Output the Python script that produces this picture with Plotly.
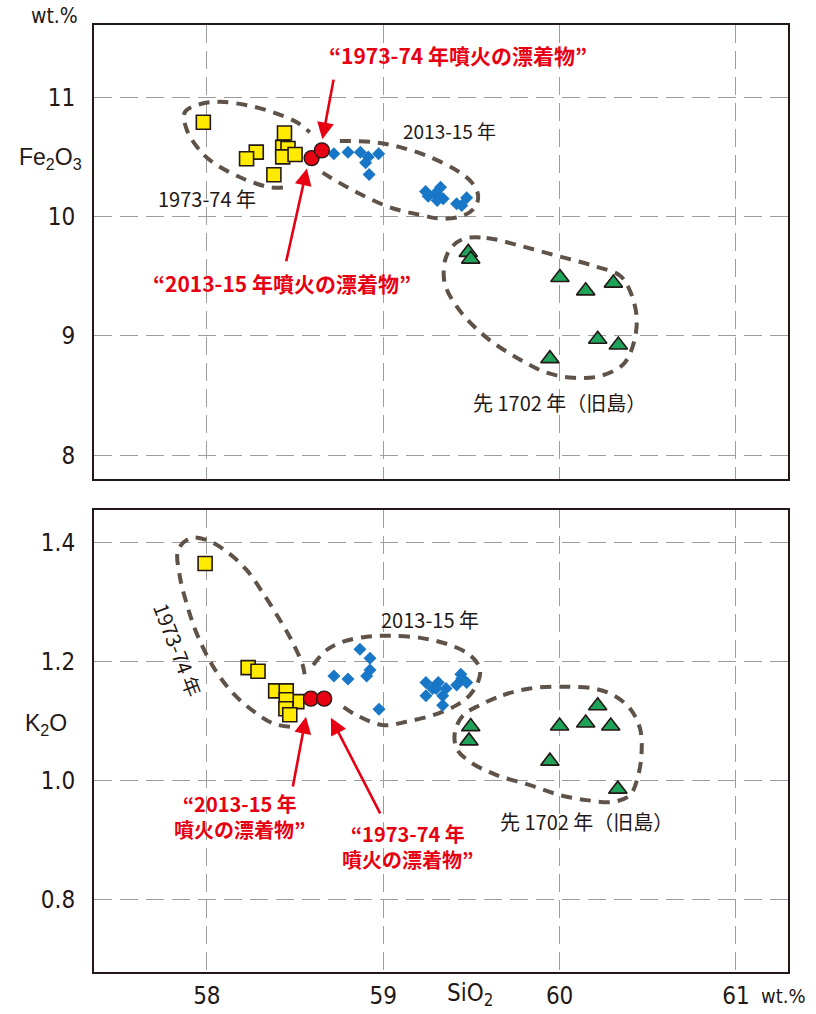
import plotly.graph_objects as go

# ---------------- data ----------------
# Upper panel: Fe2O3 vs SiO2 (wt.%)
sq_sio2_fe = [57.98, 58.44, 58.28, 58.225, 58.43, 58.46, 58.43, 58.50, 58.38]
sq_fe2o3 = [10.79, 10.70, 10.54, 10.485, 10.58, 10.57, 10.50, 10.52, 10.35]

ci_sio2_fe = [58.594, 58.652]
ci_fe2o3 = [10.49, 10.555]

di_sio2_fe = [58.72, 58.80, 58.87, 58.915, 58.974, 58.92, 58.90,
              59.24, 59.255, 59.30, 59.325, 59.31, 59.34, 59.306, 59.416, 59.445, 59.473]
di_fe2o3 = [10.527, 10.54, 10.54, 10.50, 10.527, 10.353, 10.45,
            10.21, 10.17, 10.20, 10.246, 10.168, 10.149, 10.134, 10.107, 10.092, 10.157]

tr_sio2_fe = [59.482, 59.496, 60.002, 60.148, 60.305, 60.216, 60.333, 59.945]
tr_fe2o3 = [9.70, 9.644, 9.49, 9.378, 9.443, 8.972, 8.924, 8.81]

# Lower panel: K2O vs SiO2 (wt.%)
sq_sio2_k = [57.99, 58.234, 58.29, 58.39, 58.45, 58.51, 58.45, 58.448, 58.47]
sq_k2o = [1.365, 1.19, 1.184, 1.151, 1.151, 1.133, 1.136, 1.121, 1.111]

ci_sio2_k = [58.59, 58.665]
ci_k2o = [1.138, 1.138]

di_sio2_k = [58.868, 58.925, 58.925, 58.906, 58.72, 58.80, 58.976,
             59.242, 59.28, 59.242, 59.312, 59.30, 59.356, 59.337, 59.337, 59.416, 59.44, 59.445, 59.473]
di_k2o = [1.221, 1.206, 1.186, 1.176, 1.176, 1.171, 1.12,
          1.165, 1.155, 1.143, 1.165, 1.155, 1.155, 1.143, 1.127, 1.161, 1.179, 1.172, 1.165]

tr_sio2_k = [59.496, 59.486, 60.0, 60.148, 60.216, 60.29, 59.945, 60.33]
tr_k2o = [1.091, 1.067, 1.092, 1.097, 1.126, 1.092, 1.033, 0.986]

# Group outlines (hand-drawn dashed curves), in data units
out_fe_1973_x = [58.431, 58.357, 58.204, 58.034, 57.960, 57.887, 57.875, 57.960, 58.074, 58.227, 58.374, 58.510, 58.584]
out_fe_1973_y = [10.244, 10.246, 10.319, 10.454, 10.555, 10.723, 10.874, 10.941, 10.961, 10.933, 10.874, 10.790, 10.706]
out_fe_2013_x = [58.754, 58.941, 59.095, 59.265, 59.416, 59.501, 59.538, 59.520, 59.454, 59.340, 59.227, 59.038, 58.849, 58.698, 58.622]
out_fe_2013_y = [10.633, 10.624, 10.582, 10.498, 10.387, 10.288, 10.176, 10.078, 10.008, 9.981, 10.008, 10.078, 10.204, 10.330, 10.401]
out_fe_1702_x = [59.454, 59.586, 59.775, 59.984, 60.191, 60.343, 60.399, 60.437, 60.418, 60.361, 60.229, 60.078, 59.927, 59.757, 59.586, 59.435, 59.350, 59.350, 59.387, 59.454]
out_fe_1702_y = [9.813, 9.821, 9.756, 9.672, 9.588, 9.504, 9.378, 9.154, 8.930, 8.762, 8.664, 8.650, 8.692, 8.818, 8.986, 9.210, 9.434, 9.630, 9.742, 9.813]

out_k_1973_x = [58.471, 58.376, 58.282, 58.149, 58.036, 57.942, 57.885, 57.847, 57.837, 57.904, 57.998, 58.112, 58.225, 58.319, 58.414, 58.489, 58.546, 58.556]
out_k_1973_y = [1.0908, 1.0963, 1.1131, 1.1467, 1.1916, 1.2476, 1.2980, 1.3429, 1.3877, 1.4072, 1.4045, 1.3849, 1.3541, 1.3148, 1.2701, 1.2308, 1.1916, 1.1692]
out_k_2013_x = [58.603, 58.679, 58.773, 58.906, 59.038, 59.227, 59.378, 59.491, 59.548, 59.538, 59.491, 59.416, 59.283, 59.132, 58.999, 58.849, 58.773]
out_k_2013_y = [1.1945, 1.2197, 1.2336, 1.2420, 1.2437, 1.2392, 1.2281, 1.2113, 1.1887, 1.1664, 1.1440, 1.1271, 1.1103, 1.0992, 1.0935, 1.1103, 1.1243]
out_k_1702_x = [59.548, 59.680, 59.832, 60.021, 60.191, 60.304, 60.399, 60.456, 60.465, 60.446, 60.399, 60.304, 60.154, 60.002, 59.832, 59.643, 59.492, 59.416, 59.407, 59.454, 59.548]
out_k_1702_y = [1.1271, 1.1440, 1.1551, 1.1580, 1.1551, 1.1440, 1.1215, 1.0879, 1.0487, 1.0096, 0.9760, 0.9647, 0.9676, 0.9760, 0.9928, 1.0096, 1.0319, 1.0543, 1.0824, 1.1104, 1.1271]

x_ticks = [58, 59, 60, 61]
x_tick_text = ["58", "59", "60", "61"]
fe_ticks = [8, 9, 10, 11]
fe_tick_text = ["8", "9", "10", "11"]
k_ticks = [0.8, 1.0, 1.2, 1.4]
k_tick_text = ["0.8", "1.0", "1.2", "1.4"]

# ---------------- style ----------------
W, H = 816, 1022
VS = H / 1014.0                     # vertical compensation factor
ML, MR = 94, 28
MT = 25 * VS
MB = H - 969 * VS
YELLOW = "#FFEA00"
RED = "#E60012"
BLUE = "#1877C6"
GREEN = "#1FA35B"
OUTLINE = "#5F5248"
GRID = "#9C9C9C"
NARROW = "DejaVu Sans Condensed, Liberation Sans Narrow, Roboto, sans-serif"
JP = "Noto Sans CJK JP, sans-serif"

fig = go.Figure()


def add_points(xs, ys, xa, ya, symbol, color, size, lw):
    fig.add_trace(go.Scatter(
        x=xs, y=ys, mode="markers", xaxis=xa, yaxis=ya, showlegend=False,
        marker=dict(symbol=symbol, color=color, size=size,
                    line=dict(color="#231815", width=lw))))


def add_outline(xs, ys, xa, ya):
    fig.add_trace(go.Scatter(
        x=xs, y=ys, mode="lines", xaxis=xa, yaxis=ya, showlegend=False,
        line=dict(color=OUTLINE, width=4, dash="11px,8px", shape="spline", smoothing=1.0),
        hoverinfo="skip"))


for ox, oy in [(out_fe_1973_x, out_fe_1973_y), (out_fe_2013_x, out_fe_2013_y), (out_fe_1702_x, out_fe_1702_y)]:
    add_outline(ox, oy, "x", "y")
for ox, oy in [(out_k_1973_x, out_k_1973_y), (out_k_2013_x, out_k_2013_y), (out_k_1702_x, out_k_1702_y)]:
    add_outline(ox, oy, "x2", "y2")

add_points(di_sio2_fe, di_fe2o3, "x", "y", "diamond", BLUE, 10, 0)
add_points(sq_sio2_fe, sq_fe2o3, "x", "y", "square", YELLOW, 14, 1.6)
add_points(tr_sio2_fe, tr_fe2o3, "x", "y", "triangle-up", GREEN, 16, 1.6)
add_points(ci_sio2_fe, ci_fe2o3, "x", "y", "circle", RED, 15, 1.4)

add_points(di_sio2_k, di_k2o, "x2", "y2", "diamond", BLUE, 10, 0)
add_points(sq_sio2_k, sq_k2o, "x2", "y2", "square", YELLOW, 14, 1.6)
add_points(tr_sio2_k, tr_k2o, "x2", "y2", "triangle-up", GREEN, 16, 1.6)
add_points(ci_sio2_k, ci_k2o, "x2", "y2", "circle", RED, 15, 1.4)

plot_h = H - MT - MB
top_dom = [1 - (478 - 25) / (969 - 25), 1]
bot_dom = [0, (969 - 508) / (969 - 25)]

axis_common = dict(showline=True, linecolor="#231815", linewidth=2, mirror=True,
                   showgrid=True, gridcolor=GRID, gridwidth=1, griddash="18px,8px",
                   zeroline=False, ticks="outside", tickcolor="rgba(0,0,0,0)",
                   tickfont=dict(family=NARROW, size=24, color="#231815"))

fig.update_layout(
    width=W, height=H, margin=dict(l=ML, r=MR, t=MT, b=MB),
    paper_bgcolor="white", plot_bgcolor="white",
    xaxis=dict(axis_common, domain=[0, 1], range=[57.36, 61.295], anchor="y",
               tickvals=x_ticks, ticktext=x_tick_text, showticklabels=False),
    yaxis=dict(axis_common, domain=top_dom, range=[7.798, 11.605], anchor="x",
               tickvals=fe_ticks, ticktext=fe_tick_text, ticklen=12),
    xaxis2=dict(axis_common, domain=[0, 1], range=[57.36, 61.295], anchor="y2",
                tickvals=x_ticks, ticktext=x_tick_text, ticklen=1),
    yaxis2=dict(axis_common, domain=bot_dom, range=[0.679, 1.4555], anchor="x2",
                tickvals=k_ticks, ticktext=k_tick_text, ticklen=12),
)


def px2paper(px, py):
    return (px - ML) / (W - ML - MR), 1 - (py * VS - MT) / plot_h


anns = []


def label(x, y, text, xa, ya, color="#231815", size=20, angle=0, bold=False):
    anns.append(dict(x=x, y=y, xref=xa, yref=ya, text=(f"<b>{text}</b>" if bold else text),
                     showarrow=False, textangle=angle,
                     font=dict(family=JP, size=size, color=color)))


def arrow(x0, y0, x1, y1, xa, ya):
    anns.append(dict(x=x1, y=y1, ax=x0, ay=y0, xref=xa, yref=ya, axref=xa, ayref=ya,
                     text="", showarrow=True, arrowhead=2, arrowsize=1.3, arrowwidth=2.6,
                     arrowcolor=RED, standoff=0))


# upper panel texts
label(59.424, 11.353, "“1973-74 年噴火の漂着物”", "x", "y", RED, 21, bold=True)
label(58.425, 9.445, "“2013-15 年噴火の漂着物”", "x", "y", RED, 21, bold=True)
label(59.373, 10.723, "2013-15 年", "x", "y", size=19)
label(58.0, 10.151, "1973-74 年", "x", "y")
label(60.002, 8.445, "先 1702 年（旧島）", "x", "y")
arrow(58.720, 11.16, 58.655, 10.647, "x", "y")
arrow(58.448, 9.613, 58.567, 10.403, "x", "y")

# lower panel texts
label(59.265, 1.2706, "2013-15 年", "x2", "y2")
label(57.836, 1.220, "1973-74 年", "x2", "y2", angle=69)
label(60.15, 0.931, "先 1702 年（旧島）", "x2", "y2")
label(58.187, 0.9395, "“2013-15 年<br>噴火の漂着物”", "x2", "y2", RED, 20, bold=True)
label(59.14, 0.889, "“1973-74 年<br>噴火の漂着物”", "x2", "y2", RED, 20, bold=True)
arrow(58.486, 0.988, 58.562, 1.1076, "x2", "y2")
arrow(58.987, 0.9429, 58.703, 1.106, "x2", "y2")

# axis titles / units
for (px, py, txt, fam, sz) in [
    (54, 16, "wt.%", NARROW, 21),
    (50, 158, "Fe<sub>2</sub>O<sub>3</sub>", "Liberation Sans, Arial, sans-serif", 23),
    (46, 722, "K<sub>2</sub>O", "Liberation Sans, Arial, sans-serif", 23),
    (470, 991, "SiO<sub>2</sub>", NARROW, 24),
    (783, 993, "wt.%", NARROW, 20),
]:
    xp, yp = px2paper(px, py)
    anns.append(dict(x=xp, y=yp, xref="paper", yref="paper", text=txt, showarrow=False,
                     xanchor="center", yanchor="middle",
                     font=dict(family=fam, size=sz, color="#231815")))

fig.update_layout(annotations=anns)
fig.write_html(
    "out.html",
    config={"displayModeBar": False},
    post_script=(
        "document.body.style.margin='0';document.body.style.overflow='hidden';"
        "document.documentElement.style.overflow='hidden';"
    ),
)
